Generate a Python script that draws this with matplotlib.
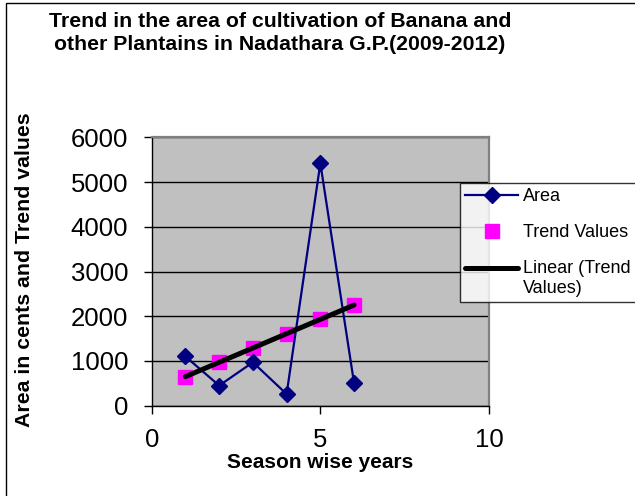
import numpy as np
import matplotlib
matplotlib.use("Agg")
import matplotlib.pyplot as plt
from matplotlib.patches import Rectangle

plt.rcParams['font.family'] = ['Liberation Sans', 'DejaVu Sans']

# Season-wise years (index) and observed cultivation area (cents)
seasons = [1, 2, 3, 4, 5, 6]
area = [1100, 450, 970, 260, 5420, 500]
# Trend values for the same seasons
trend_values = [650, 970, 1290, 1610, 1930, 2250]

x_ticks = [0, 5, 10]
y_ticks = [0, 1000, 2000, 3000, 4000, 5000, 6000]

title = "Trend in the area of cultivation of Banana and\nother Plantains in Nadathara G.P.(2009-2012)"

fig = plt.figure(figsize=(6.35, 4.96), dpi=100)
fig.patch.set_facecolor('white')

# chart-area border (left and top edges visible)
fig.add_artist(Rectangle((6 / 635, -0.1), 1.2, 0.1 + (496 - 3) / 496,
                         transform=fig.transFigure, fill=False,
                         edgecolor='black', linewidth=1.0))

ax = fig.add_axes([151.7 / 635, (496 - 405.7) / 496,
                   (489 - 151.7) / 635, (405.7 - 137.3) / 496])
ax.set_facecolor('#C0C0C0')
ax.set_xlim(0, 10)
ax.set_ylim(0, 6000)
ax.set_xticks(x_ticks)
ax.set_yticks(y_ticks)
ax.yaxis.grid(True, color='black', linewidth=1.0)
ax.set_axisbelow(True)

for side in ('top', 'right'):
    ax.spines[side].set_color('#808080')
    ax.spines[side].set_linewidth(1.6)
for side in ('left', 'bottom'):
    ax.spines[side].set_color('black')
    ax.spines[side].set_linewidth(1.0)

ax.tick_params(axis='both', direction='out', length=6, width=1,
               labelsize=18.5, colors='black')
ax.tick_params(axis='y', pad=11)
ax.tick_params(axis='x', pad=10)

h_area, = ax.plot(seasons, area, color='#000080', linewidth=1.6,
                  marker='D', markersize=7.8, markerfacecolor='#000080',
                  markeredgecolor='#000080', label='Area', zorder=4)
h_trend, = ax.plot(seasons, trend_values, linestyle='none', marker='s',
                   markersize=10.5, markerfacecolor='#FF00FF',
                   markeredgecolor='#FF00FF', label='Trend Values', zorder=3)

# least-squares linear trendline through the trend values
coef = np.polyfit(seasons, trend_values, 1)
fit_x = np.array([seasons[0], seasons[-1]])
h_lin, = ax.plot(fit_x, np.polyval(coef, fit_x), color='black',
                 linewidth=3.6, solid_capstyle='round',
                 label='Linear (Trend\nValues)', zorder=5)

# legend box runs past the right edge of the figure
leg = fig.legend(handles=[h_area, h_trend, h_lin],
                 loc='upper left',
                 bbox_to_anchor=(460 / 635, 1 - 183 / 496, 0.35, 0),
                 mode='expand',
                 frameon=True, fancybox=False, fontsize=13,
                 handlelength=2.9, handletextpad=0.3, labelspacing=1.05,
                 borderpad=0.3, borderaxespad=0)
leg.get_frame().set_edgecolor('black')
leg.get_frame().set_linewidth(1.0)
leg.get_frame().set_facecolor('white')
# align the trendline sample with the first line of its two-line label
lin_handle = leg.legend_handles[2]
lin_handle.set_ydata(np.asarray(lin_handle.get_ydata()) + 7.5)

fig.text(280 / 635, 1 - 33 / 496, title, ha='center', va='center',
         fontsize=15.3, fontweight='bold', linespacing=1.3)
fig.text(320 / 635, 1 - 462 / 496, "Season wise years", ha='center',
         va='center', fontsize=15, fontweight='bold')
fig.text(25 / 635, 1 - 270 / 496, "Area in cents and Trend values",
         ha='center', va='center', rotation=90, fontsize=15.3,
         fontweight='bold')

fig.savefig('out.png', dpi=100)
